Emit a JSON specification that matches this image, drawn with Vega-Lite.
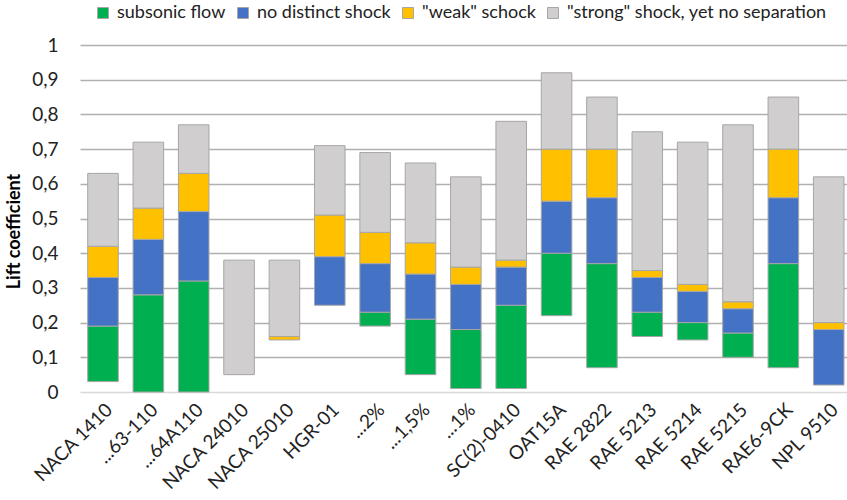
{
  "$schema": "https://vega.github.io/schema/vega-lite/v6.json",
  "width": 767,
  "height": 347,
  "autosize": "none",
  "padding": {"left": 80, "top": 45, "right": 0, "bottom": 108},
  "background": "white",
  "config": {
    "font": "Lato",
    "view": {"stroke": null}
  },
  "data": {
    "values": [
      {"airfoil": "NACA 1410", "regime": "subsonic flow", "lo": 0.03, "hi": 0.19},
      {"airfoil": "NACA 1410", "regime": "no distinct shock", "lo": 0.19, "hi": 0.33},
      {"airfoil": "NACA 1410", "regime": "\"weak\" schock", "lo": 0.33, "hi": 0.42},
      {"airfoil": "NACA 1410", "regime": "\"strong\" shock, yet no separation", "lo": 0.42, "hi": 0.63},
      {"airfoil": "...63-110", "regime": "subsonic flow", "lo": 0.0, "hi": 0.28},
      {"airfoil": "...63-110", "regime": "no distinct shock", "lo": 0.28, "hi": 0.44},
      {"airfoil": "...63-110", "regime": "\"weak\" schock", "lo": 0.44, "hi": 0.53},
      {"airfoil": "...63-110", "regime": "\"strong\" shock, yet no separation", "lo": 0.53, "hi": 0.72},
      {"airfoil": "...64A110", "regime": "subsonic flow", "lo": 0.0, "hi": 0.32},
      {"airfoil": "...64A110", "regime": "no distinct shock", "lo": 0.32, "hi": 0.52},
      {"airfoil": "...64A110", "regime": "\"weak\" schock", "lo": 0.52, "hi": 0.63},
      {"airfoil": "...64A110", "regime": "\"strong\" shock, yet no separation", "lo": 0.63, "hi": 0.77},
      {"airfoil": "NACA 24010", "regime": "\"strong\" shock, yet no separation", "lo": 0.05, "hi": 0.38},
      {"airfoil": "NACA 25010", "regime": "\"weak\" schock", "lo": 0.15, "hi": 0.16},
      {"airfoil": "NACA 25010", "regime": "\"strong\" shock, yet no separation", "lo": 0.16, "hi": 0.38},
      {"airfoil": "HGR-01", "regime": "no distinct shock", "lo": 0.25, "hi": 0.39},
      {"airfoil": "HGR-01", "regime": "\"weak\" schock", "lo": 0.39, "hi": 0.51},
      {"airfoil": "HGR-01", "regime": "\"strong\" shock, yet no separation", "lo": 0.51, "hi": 0.71},
      {"airfoil": "...2%", "regime": "subsonic flow", "lo": 0.19, "hi": 0.23},
      {"airfoil": "...2%", "regime": "no distinct shock", "lo": 0.23, "hi": 0.37},
      {"airfoil": "...2%", "regime": "\"weak\" schock", "lo": 0.37, "hi": 0.46},
      {"airfoil": "...2%", "regime": "\"strong\" shock, yet no separation", "lo": 0.46, "hi": 0.69},
      {"airfoil": "...1,5%", "regime": "subsonic flow", "lo": 0.05, "hi": 0.21},
      {"airfoil": "...1,5%", "regime": "no distinct shock", "lo": 0.21, "hi": 0.34},
      {"airfoil": "...1,5%", "regime": "\"weak\" schock", "lo": 0.34, "hi": 0.43},
      {"airfoil": "...1,5%", "regime": "\"strong\" shock, yet no separation", "lo": 0.43, "hi": 0.66},
      {"airfoil": "...1%", "regime": "subsonic flow", "lo": 0.01, "hi": 0.18},
      {"airfoil": "...1%", "regime": "no distinct shock", "lo": 0.18, "hi": 0.31},
      {"airfoil": "...1%", "regime": "\"weak\" schock", "lo": 0.31, "hi": 0.36},
      {"airfoil": "...1%", "regime": "\"strong\" shock, yet no separation", "lo": 0.36, "hi": 0.62},
      {"airfoil": "SC(2)-0410", "regime": "subsonic flow", "lo": 0.01, "hi": 0.25},
      {"airfoil": "SC(2)-0410", "regime": "no distinct shock", "lo": 0.25, "hi": 0.36},
      {"airfoil": "SC(2)-0410", "regime": "\"weak\" schock", "lo": 0.36, "hi": 0.38},
      {"airfoil": "SC(2)-0410", "regime": "\"strong\" shock, yet no separation", "lo": 0.38, "hi": 0.78},
      {"airfoil": "OAT15A", "regime": "subsonic flow", "lo": 0.22, "hi": 0.40},
      {"airfoil": "OAT15A", "regime": "no distinct shock", "lo": 0.40, "hi": 0.55},
      {"airfoil": "OAT15A", "regime": "\"weak\" schock", "lo": 0.55, "hi": 0.70},
      {"airfoil": "OAT15A", "regime": "\"strong\" shock, yet no separation", "lo": 0.70, "hi": 0.92},
      {"airfoil": "RAE 2822", "regime": "subsonic flow", "lo": 0.07, "hi": 0.37},
      {"airfoil": "RAE 2822", "regime": "no distinct shock", "lo": 0.37, "hi": 0.56},
      {"airfoil": "RAE 2822", "regime": "\"weak\" schock", "lo": 0.56, "hi": 0.70},
      {"airfoil": "RAE 2822", "regime": "\"strong\" shock, yet no separation", "lo": 0.70, "hi": 0.85},
      {"airfoil": "RAE 5213", "regime": "subsonic flow", "lo": 0.16, "hi": 0.23},
      {"airfoil": "RAE 5213", "regime": "no distinct shock", "lo": 0.23, "hi": 0.33},
      {"airfoil": "RAE 5213", "regime": "\"weak\" schock", "lo": 0.33, "hi": 0.35},
      {"airfoil": "RAE 5213", "regime": "\"strong\" shock, yet no separation", "lo": 0.35, "hi": 0.75},
      {"airfoil": "RAE 5214", "regime": "subsonic flow", "lo": 0.15, "hi": 0.20},
      {"airfoil": "RAE 5214", "regime": "no distinct shock", "lo": 0.20, "hi": 0.29},
      {"airfoil": "RAE 5214", "regime": "\"weak\" schock", "lo": 0.29, "hi": 0.31},
      {"airfoil": "RAE 5214", "regime": "\"strong\" shock, yet no separation", "lo": 0.31, "hi": 0.72},
      {"airfoil": "RAE 5215", "regime": "subsonic flow", "lo": 0.10, "hi": 0.17},
      {"airfoil": "RAE 5215", "regime": "no distinct shock", "lo": 0.17, "hi": 0.24},
      {"airfoil": "RAE 5215", "regime": "\"weak\" schock", "lo": 0.24, "hi": 0.26},
      {"airfoil": "RAE 5215", "regime": "\"strong\" shock, yet no separation", "lo": 0.26, "hi": 0.77},
      {"airfoil": "RAE6-9CK", "regime": "subsonic flow", "lo": 0.07, "hi": 0.37},
      {"airfoil": "RAE6-9CK", "regime": "no distinct shock", "lo": 0.37, "hi": 0.56},
      {"airfoil": "RAE6-9CK", "regime": "\"weak\" schock", "lo": 0.56, "hi": 0.70},
      {"airfoil": "RAE6-9CK", "regime": "\"strong\" shock, yet no separation", "lo": 0.70, "hi": 0.85},
      {"airfoil": "NPL 9510", "regime": "no distinct shock", "lo": 0.02, "hi": 0.18},
      {"airfoil": "NPL 9510", "regime": "\"weak\" schock", "lo": 0.18, "hi": 0.20},
      {"airfoil": "NPL 9510", "regime": "\"strong\" shock, yet no separation", "lo": 0.20, "hi": 0.62}
    ]
  },
  "mark": {"type": "bar", "stroke": "#a6a6a6", "strokeWidth": 1},
  "encoding": {
    "x": {
      "field": "airfoil",
      "type": "nominal",
      "sort": null,
      "scale": {"paddingInner": 0.326, "paddingOuter": 0.118, "align": 0.72},
      "axis": {
        "title": null,
        "labelAngle": -45,
        "labelFontSize": 19,
        "labelColor": "#222222",
        "labelPadding": 8,
        "ticks": false,
        "domain": false
      }
    },
    "y": {
      "field": "lo",
      "type": "quantitative",
      "scale": {"domain": [0, 1], "nice": false},
      "axis": {
        "title": "Lift coefficient",
        "titleFontSize": 18,
        "titleFontWeight": "bold",
        "titleColor": "#000000",
        "titlePadding": 8,
        "titleY": 186,
        "values": [0, 0.1, 0.2, 0.3, 0.4, 0.5, 0.6, 0.7, 0.8, 0.9, 1],
        "labelExpr": "replace(format(datum.value, '.1~f'), '.', ',')",
        "labelFontSize": 19,
        "labelColor": "#222222",
        "labelPadding": 22,
        "ticks": false,
        "domain": false,
        "grid": true,
        "gridColor": {"condition": {"test": "datum.value === 0", "value": "#d9d9d9"}, "value": "#b0b0b0"},
        "gridWidth": 1.5
      }
    },
    "y2": {"field": "hi"},
    "color": {
      "field": "regime",
      "type": "nominal",
      "scale": {
        "domain": ["subsonic flow", "no distinct shock", "\"weak\" schock", "\"strong\" shock, yet no separation"],
        "range": ["#00B050", "#4472C4", "#FFC000", "#D0CECE"]
      },
      "legend": {
        "title": null,
        "orient": "none",
        "direction": "horizontal",
        "legendX": 14,
        "legendY": -41,
        "symbolType": "square",
        "symbolSize": 121,
        "symbolStrokeColor": "#a6a6a6",
        "symbolStrokeWidth": 1,
        "labelFontSize": 18,
        "labelColor": "#222222",
        "labelOffset": 5,
        "columnPadding": 8,
        "labelLimit": 400
      }
    }
  }
}
